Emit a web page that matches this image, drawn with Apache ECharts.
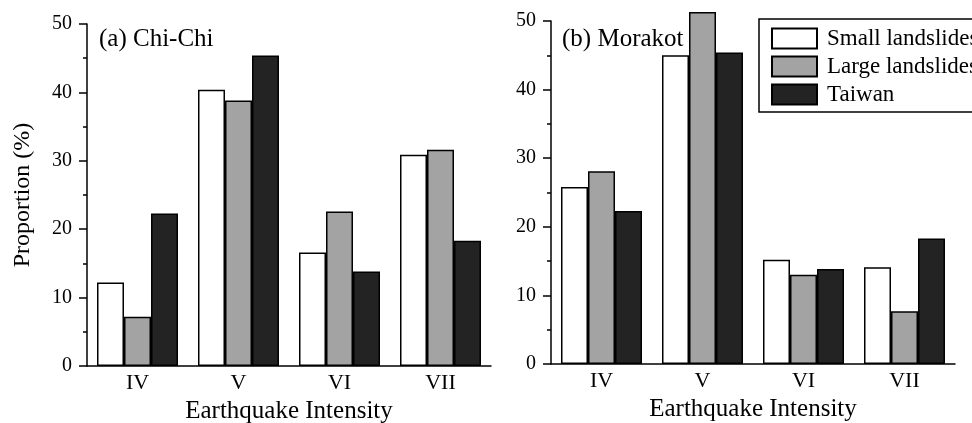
<!DOCTYPE html>
<html><head><meta charset="utf-8">
<script src="https://cdn.jsdelivr.net/npm/echarts@6/dist/echarts.min.js"></script>
<style>html,body{margin:0;padding:0;background:#fff}#c{width:972px;height:423px}</style>
</head><body><div id="c"></div>
<script>
const categories = ['IV', 'V', 'VI', 'VII'];
const seriesNames = ['Small landslides', 'Large landslides', 'Taiwan'];
// (a) Chi-Chi
const chichiSmall = [12.2, 40.4, 16.6, 30.9];
const chichiLarge = [7.2, 38.8, 22.6, 31.6];
const chichiTaiwan = [22.3, 45.4, 13.8, 18.3];
// (b) Morakot
const morakotSmall = [25.8, 45.0, 15.2, 14.1];
const morakotLarge = [28.1, 51.3, 13.0, 7.7];
const morakotTaiwan = [22.3, 45.4, 13.85, 18.3];
const yTicks = [0, 10, 20, 30, 40, 50];

const FONT = '"Liberation Serif", "Times New Roman", serif';
const colors = ['#ffffff', '#a3a3a3', '#232323'];

function xAxis(gi) {
  return {
    type: 'category', gridIndex: gi, data: categories,
    axisLine: {lineStyle: {color: '#000', width: 1.5}},
    axisTick: {length: 5, lineStyle: {color: '#000', width: 1.5}},
    axisLabel: {color: '#000', fontFamily: FONT, fontSize: 22, margin: 6},
    name: 'Earthquake Intensity', nameLocation: 'middle', nameGap: 32,
    nameTextStyle: {color: '#000', fontFamily: FONT, fontSize: 25}
  };
}
function yAxis(gi, withName) {
  const a = {
    type: 'value', gridIndex: gi, min: yTicks[0], max: yTicks[yTicks.length - 1], interval: 10,
    axisLine: {show: true, lineStyle: {color: '#000', width: 1.5}},
    axisTick: {show: true, length: 8, lineStyle: {color: '#000', width: 1.5}},
    minorTick: {show: true, splitNumber: 2, length: 4, lineStyle: {color: '#000', width: 1.5}},
    splitLine: {show: false},
    axisLabel: {color: '#000', fontFamily: FONT, fontSize: 20, margin: 15}
  };
  if (withName) {
    a.name = 'Proportion (%)';
    a.nameLocation = 'middle';
    a.nameGap = 52;
    a.nameTextStyle = {color: '#000', fontFamily: FONT, fontSize: 24};
  }
  return a;
}
function bar(name, data, gi, ci) {
  return {
    type: 'bar', name: name, data: data, xAxisIndex: gi, yAxisIndex: gi,
    barWidth: 27, barGap: '0%', clip: false,
    itemStyle: {color: colors[ci], borderColor: '#000', borderWidth: 1.5},
    emphasis: {disabled: true}
  };
}

const chart = echarts.init(document.getElementById('c'), null, {renderer: 'canvas'});
chart.setOption({
  animation: false,
  backgroundColor: '#fff',
  title: [
    {text: '(a) Chi-Chi', left: 99, top: 27, padding: 0,
     textStyle: {fontFamily: FONT, fontSize: 25, fontWeight: 'normal', color: '#000'}},
    {text: '(b) Morakot', left: 562, top: 27, padding: 0,
     textStyle: {fontFamily: FONT, fontSize: 25, fontWeight: 'normal', color: '#000'}}
  ],
  legend: {
    data: seriesNames, orient: 'vertical', left: 759, top: 19,
    itemWidth: 45, itemHeight: 20, itemGap: 5,
    padding: [8, 12, 6, 12],
    borderColor: '#000', borderWidth: 1.5,
    icon: 'rect',
    textStyle: {fontFamily: FONT, fontSize: 23, lineHeight: 22, color: '#000', padding: [0, 0, 0, 5]},
    selectedMode: false
  },
  grid: [
    {left: 87, right: 481, top: 24, bottom: 57, outerBoundsMode: 'none', containLabel: false},
    {left: 551, right: 17, top: 21, bottom: 59, outerBoundsMode: 'none', containLabel: false}
  ],
  xAxis: [xAxis(0), xAxis(1)],
  yAxis: [yAxis(0, true), yAxis(1, false)],
  series: [
    bar(seriesNames[0], chichiSmall, 0, 0),
    bar(seriesNames[1], chichiLarge, 0, 1),
    bar(seriesNames[2], chichiTaiwan, 0, 2),
    bar(seriesNames[0], morakotSmall, 1, 0),
    bar(seriesNames[1], morakotLarge, 1, 1),
    bar(seriesNames[2], morakotTaiwan, 1, 2)
  ]
});
</script></body></html>
